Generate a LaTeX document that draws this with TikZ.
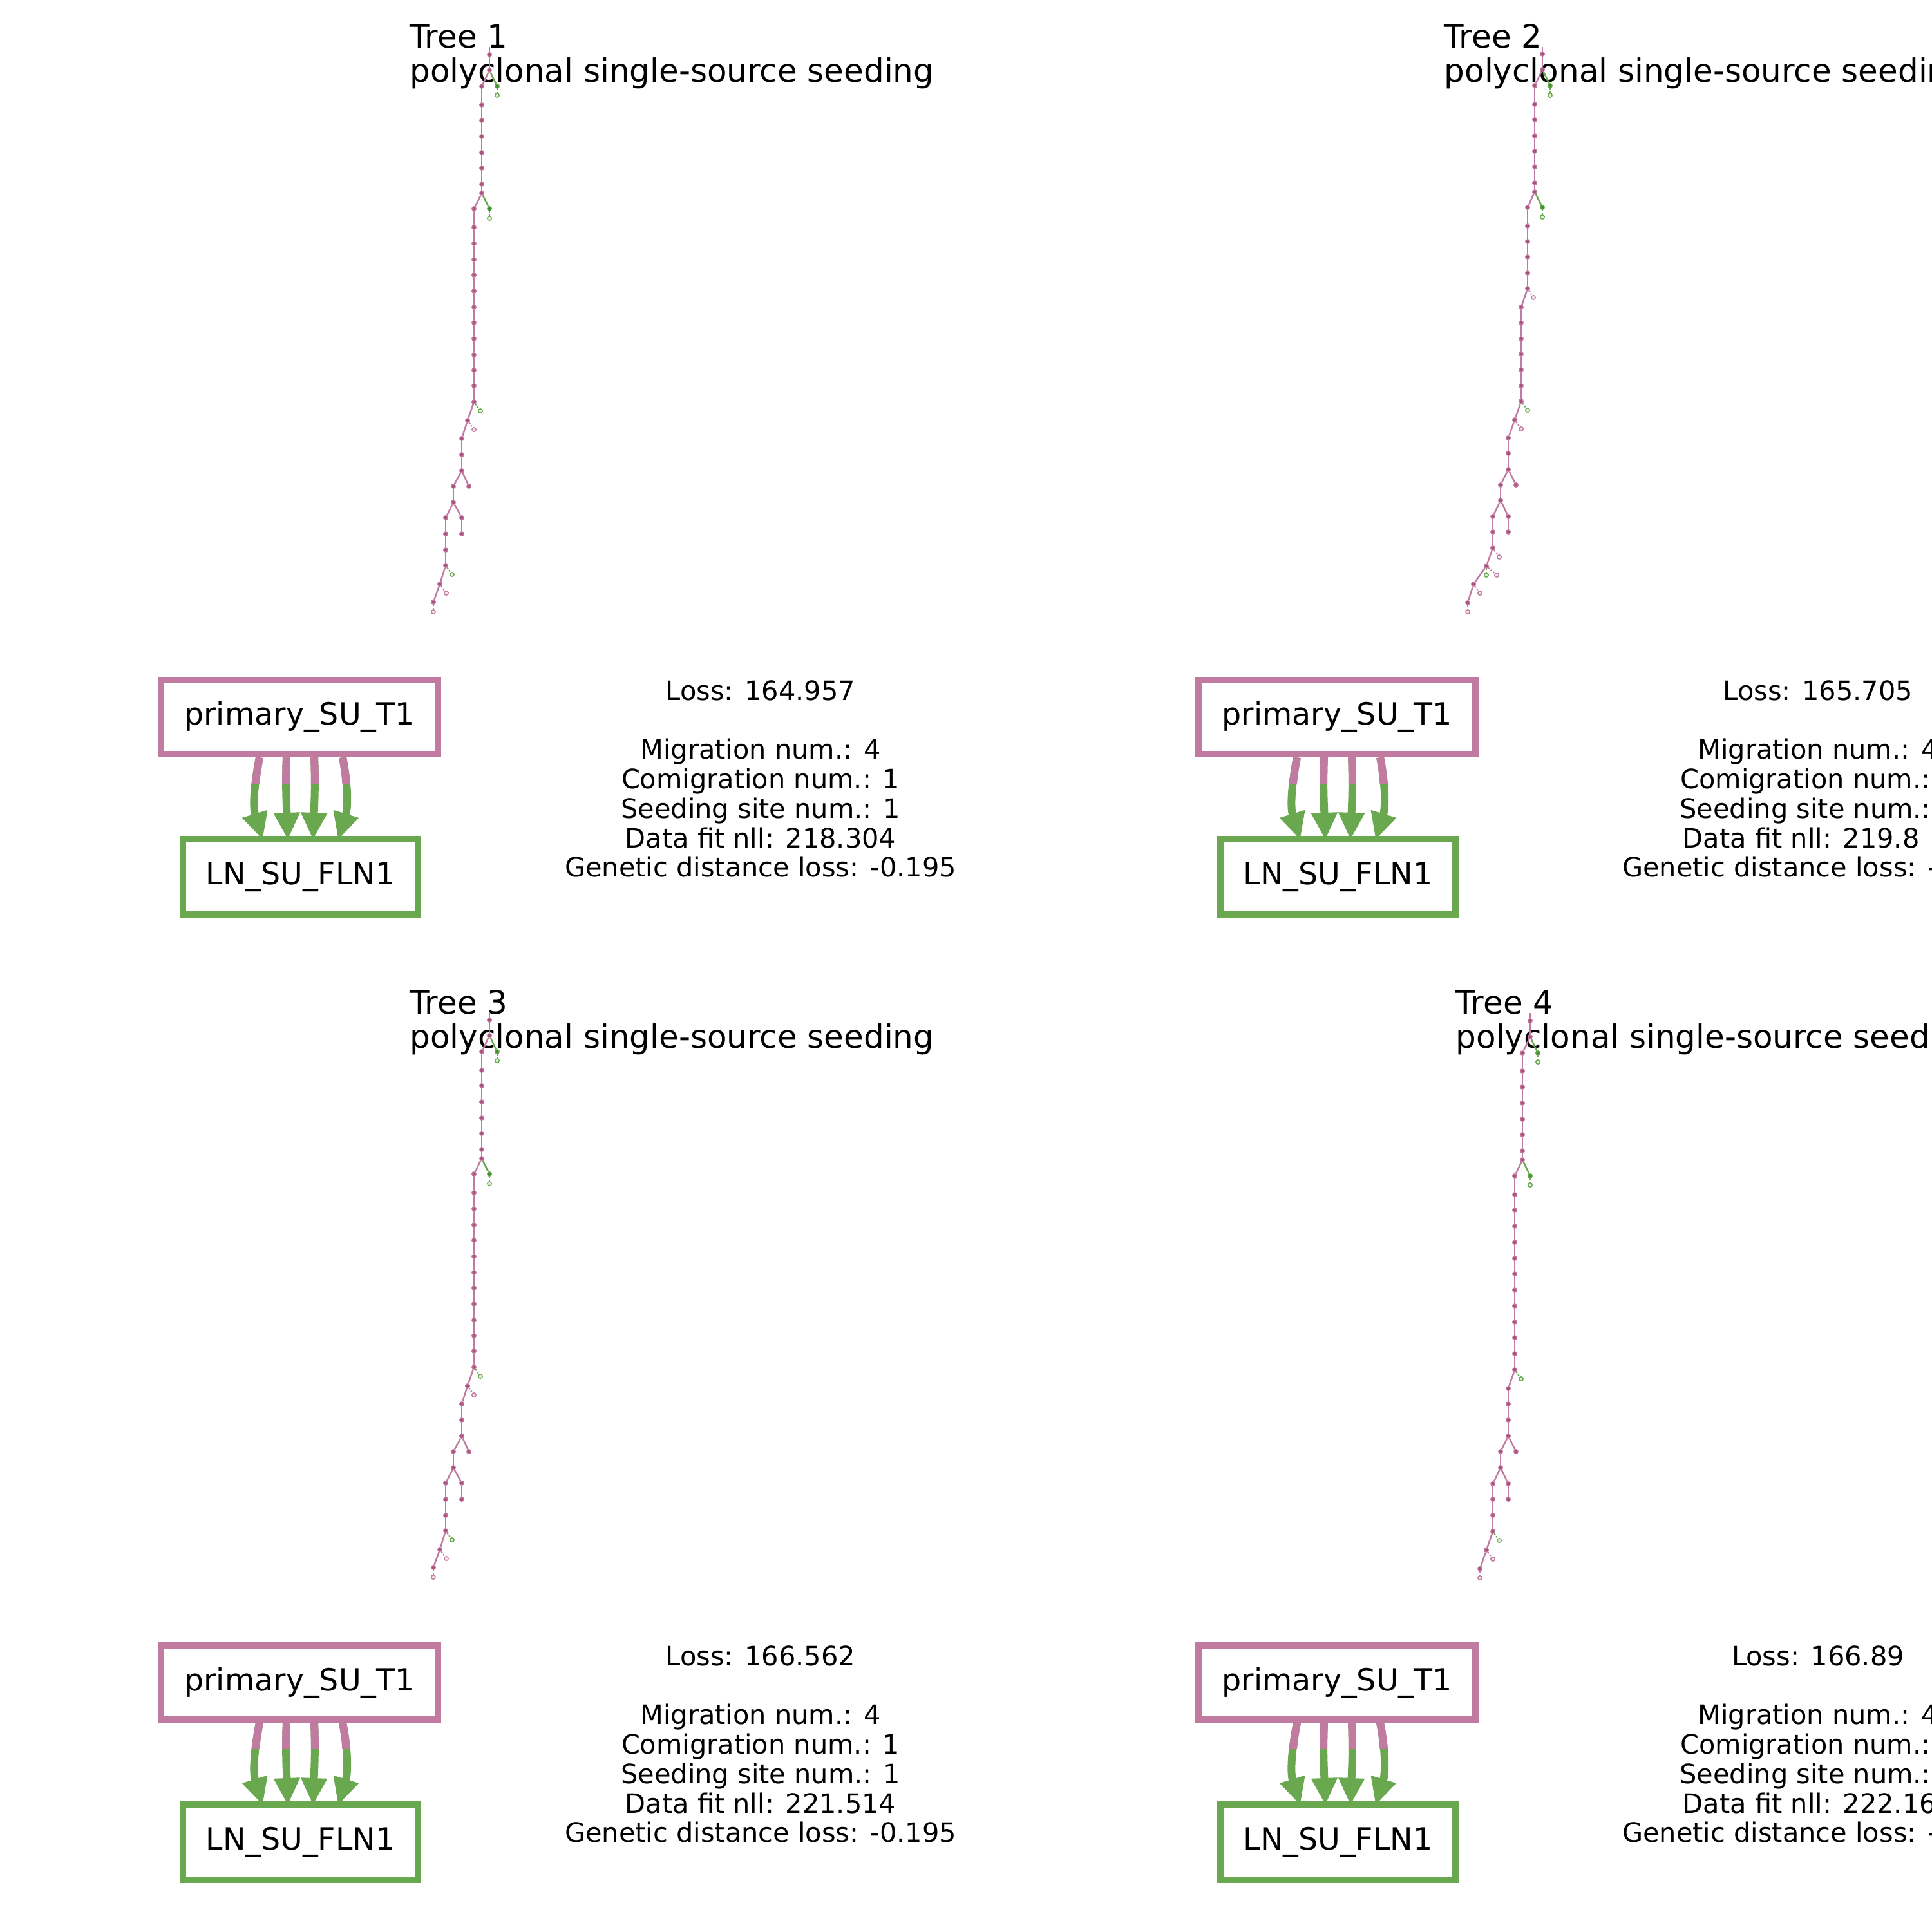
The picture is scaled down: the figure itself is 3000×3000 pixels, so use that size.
\documentclass[tikz,border=0pt]{standalone}
\usepackage{fontspec}
\setmainfont{DejaVu Sans}
\usetikzlibrary{arrows.meta,calc}
\definecolor{pk}{HTML}{C27BA0}
\definecolor{gr}{HTML}{6AA84F}
\definecolor{pkdark}{HTML}{A9507F}
\definecolor{grdark}{HTML}{3F8F2C}
\definecolor{pklight}{HTML}{F4E2EC}
\definecolor{grlight}{HTML}{E0F0D8}
\tikzset{
 pn/.style={circle,fill=pkdark,draw=pk,line width=0.4pt,inner sep=0,minimum size=0.065cm},
 gn/.style={circle,fill=grdark,draw=gr,line width=0.4pt,inner sep=0,minimum size=0.065cm},
 po/.style={circle,fill=pklight,draw=pk,line width=0.4pt,inner sep=0,minimum size=0.065cm},
 go/.style={circle,fill=grlight,draw=gr,line width=0.4pt,inner sep=0,minimum size=0.065cm},
 pe/.style={draw=pk,line width=0.7pt},
 ge/.style={draw=gr,line width=0.7pt},
 pd/.style={draw=pk,line width=0.6pt,dash pattern=on 0.7pt off 0.7pt},
 gd/.style={draw=gr,line width=0.6pt,dash pattern=on 0.7pt off 0.7pt},
 ttl/.style={anchor=base west,inner sep=0,font=\fontsize{14.2}{15.1}\selectfont},
 stat/.style={anchor=base,inner sep=0,font=\fontsize{11.8}{13}\selectfont},
 primbox/.style={draw=pk,line width=0.1cm,minimum width=4.3cm,minimum height=1.15cm,inner sep=0,font=\fontsize{13.5}{16}\selectfont},
 lnbox/.style={draw=gr,line width=0.1cm,minimum width=3.65cm,minimum height=1.17cm,inner sep=0,font=\fontsize{13.5}{16}\selectfont},
 migg/.style={draw=gr,line width=0.12cm,-{Triangle[length=0.42cm,width=0.38cm]}},
 migp/.style={draw=pk,line width=0.12cm},
}
\newcommand{\mkchain}[3]{\foreach \i/\y in {#3} \node[pn] (#1\i) at (#2,\y) {};}
\newcommand{\mkedges}[2]{\foreach \i in {2,...,#2}{\pgfmathtruncatemacro\pj{\i-1}\draw[pe] (#1\pj) -- (#1\i);}}
% tree layout of trees 1 and 3
\newcommand{\treeA}[1]{
 \coordinate (#1r) at (760,73);
 \node[pn] (#1n1) at (760,85) {};
 \node[pn] (#1n2) at (760,109) {};
 \node[gn] (#1g1) at (772,134) {};
 \node[go] (#1g1o) at (772,148) {};
 \mkchain{#1a}{748}{1/134,2/163,3/187,4/212,5/237,6/261,7/286,8/300}
 \node[gn] (#1g2) at (760,324) {};
 \node[go] (#1g2o) at (760,339) {};
 \mkchain{#1b}{736}{1/324,2/353,3/378,4/403,5/427,6/452,7/477,8/501,9/526,10/551,11/575,12/599,13/624}
 \node[go] (#1g3o) at (746,638) {};
 \node[pn] (#1c1) at (726,653) {};
 \node[po] (#1p1o) at (736,667) {};
 \mkchain{#1d}{717}{1/681,2/706,3/731}
 \node[pn] (#1e1) at (704,755) {};
 \node[pn] (#1e1r) at (728,755) {};
 \node[pn] (#1e2) at (704,780) {};
 \mkchain{#1f}{692}{1/804,2/829,3/854,4/878}
 \node[pn] (#1f1r) at (717,804) {};
 \node[pn] (#1f2r) at (717,829) {};
 \node[go] (#1g4o) at (702,892) {};
 \node[pn] (#1h1) at (683,907) {};
 \node[po] (#1p2o) at (693,921) {};
 \node[pn] (#1h2) at (673,935) {};
 \node[po] (#1p3o) at (673,950) {};
 \draw[pe] (#1r) -- (#1n1);
 \draw[pe] (#1n1) -- (#1n2);
 \draw[pe] (#1n2) -- (#1a1);
 \draw[ge] (#1n2) -- (#1g1);
 \draw[gd] (#1g1) -- (#1g1o);
 \mkedges{#1a}{8}
 \draw[pe] (#1a8) -- (#1b1);
 \draw[ge] (#1a8) -- (#1g2);
 \draw[gd] (#1g2) -- (#1g2o);
 \mkedges{#1b}{13}
 \draw[gd] (#1b13) -- (#1g3o);
 \draw[pe] (#1b13) -- (#1c1);
 \draw[pd] (#1c1) -- (#1p1o);
 \draw[pe] (#1c1) -- (#1d1);
 \mkedges{#1d}{3}
 \draw[pe] (#1d3) -- (#1e1);
 \draw[pe] (#1d3) -- (#1e1r);
 \draw[pe] (#1e1) -- (#1e2);
 \draw[pe] (#1e2) -- (#1f1);
 \draw[pe] (#1e2) -- (#1f1r);
 \draw[pe] (#1f1r) -- (#1f2r);
 \mkedges{#1f}{4}
 \draw[gd] (#1f4) -- (#1g4o);
 \draw[pe] (#1f4) -- (#1h1);
 \draw[pd] (#1h1) -- (#1p2o);
 \draw[pe] (#1h1) -- (#1h2);
 \draw[pd] (#1h2) -- (#1p3o);
}
% one migration arrow: #1 graph prefix, #2 start dx, #3 end dx, #4 first control, #5 second control, #6 style
\newcommand{\migarrow}[6]{\draw[#6] ($(#1p.south)+(#2,0)$) .. controls +(#4) and +(#5) .. ($(#1l.north)+(#3,6)$);}
% migration graph
\newcommand{\migraph}[1]{
 \node[primbox,anchor=north] (#1p) at (465,1051) {primary\_SU\_T1};
 \node[lnbox,anchor=north] (#1l) at (466.5,1298) {LN\_SU\_FLN1};
 \migarrow{#1}{-62}{-58.5}{-8,40}{-16,-52}{migg}
 \migarrow{#1}{-20}{-19.5}{-2,40}{-2,-52}{migg}
 \migarrow{#1}{23}{19.5}{2,40}{2,-52}{migg}
 \migarrow{#1}{67}{58.5}{8,40}{16,-52}{migg}
 \begin{scope}
  \clip (0,1100) rectangle (3000,1216);
  \migarrow{#1}{-62}{-58.5}{-8,40}{-16,-52}{migp}
  \migarrow{#1}{-20}{-19.5}{-2,40}{-2,-52}{migp}
  \migarrow{#1}{23}{19.5}{2,40}{2,-52}{migp}
  \migarrow{#1}{67}{58.5}{8,40}{16,-52}{migp}
 \end{scope}
}
\newcommand{\statblk}[9]{
 \node[stat] (#1s1) at (#2,#3) {#4};
 \node[stat] (#1s2) at (#2,#3+91.6) {#5};
 \node[stat] (#1s3) at (#2,#3+137.4) {#6};
 \node[stat] (#1s4) at (#2,#3+183.2) {#7};
 \node[stat] (#1s5) at (#2,#3+229) {#8};
 \node[stat] (#1s6) at (#2,#3+274.8) {#9};
}
\begin{document}
\begin{tikzpicture}[x=0.01cm,y=-0.01cm]
\useasboundingbox (0,0) rectangle (3000,3000);
\fill[white] (0,0) rectangle (3000,3000);
\clip (0,0) rectangle (3000,3000);

% ---------- Tree 1 ----------
\node[ttl] (t1a) at (636,75) {Tree 1};
\node[ttl] (t1b) at (636,128) {polyclonal single-source seeding};
\treeA{T1}
\migraph{M1}
\statblk{S1}{1181}{1087}{Loss: 164.957}{Migration num.: 4}{Comigration num.: 1}{Seeding site num.: 1}{Data fit nll: 218.304}{Genetic distance loss: -0.195}

% ---------- Tree 2 ----------
\node[ttl] (t2a) at (2242,75) {Tree 2};
\node[ttl] (t2b) at (2242,128) {polyclonal single-source seeding};
\coordinate (T2r) at (2395,73);
\node[pn] (T2n1) at (2395,84) {};
\node[pn] (T2n2) at (2395,108) {};
\node[gn] (T2g1) at (2407,133) {};
\node[go] (T2g1o) at (2407,148) {};
\mkchain{T2a}{2383}{1/133,2/162,3/186,4/211,5/235,6/259,7/284,8/298}
\node[gn] (T2g2) at (2395,322) {};
\node[go] (T2g2o) at (2395,337) {};
\mkchain{T2b}{2372}{1/322,2/351,3/375,4/399,5/424,6/448}
\node[po] (T2p0o) at (2381,462) {};
\mkchain{T2c}{2362}{1/477,2/501,3/526,4/550,5/574,6/599,7/623}
\node[go] (T2g3o) at (2372,637) {};
\node[pn] (T2d0) at (2352,652) {};
\node[po] (T2p1o) at (2362,666) {};
\mkchain{T2d}{2342}{1/680,2/704,3/729}
\node[pn] (T2e1) at (2330,753) {};
\node[pn] (T2e1r) at (2354,753) {};
\node[pn] (T2e2) at (2330,777) {};
\mkchain{T2f}{2318}{1/802,2/826,3/851}
\node[pn] (T2f1r) at (2342,802) {};
\node[pn] (T2f2r) at (2342,826) {};
\node[po] (T2p2o) at (2328,865) {};
\node[pn] (T2h0) at (2308,879) {};
\node[go] (T2g4o) at (2308,893) {};
\node[po] (T2p3o) at (2324,893) {};
\node[pn] (T2h1) at (2288,907) {};
\node[po] (T2p4o) at (2298,921) {};
\node[pn] (T2h2) at (2279,936) {};
\node[po] (T2p5o) at (2279,950) {};
\draw[pe] (T2r) -- (T2n1);
\draw[pe] (T2n1) -- (T2n2);
\draw[pe] (T2n2) -- (T2a1);
\draw[ge] (T2n2) -- (T2g1);
\draw[gd] (T2g1) -- (T2g1o);
\mkedges{T2a}{8}
\draw[pe] (T2a8) -- (T2b1);
\draw[ge] (T2a8) -- (T2g2);
\draw[gd] (T2g2) -- (T2g2o);
\mkedges{T2b}{6}
\draw[pd] (T2b6) -- (T2p0o);
\draw[pe] (T2b6) -- (T2c1);
\mkedges{T2c}{7}
\draw[gd] (T2c7) -- (T2g3o);
\draw[pe] (T2c7) -- (T2d0);
\draw[pd] (T2d0) -- (T2p1o);
\draw[pe] (T2d0) -- (T2d1);
\mkedges{T2d}{3}
\draw[pe] (T2d3) -- (T2e1);
\draw[pe] (T2d3) -- (T2e1r);
\draw[pe] (T2e1) -- (T2e2);
\draw[pe] (T2e2) -- (T2f1);
\draw[pe] (T2e2) -- (T2f1r);
\draw[pe] (T2f1r) -- (T2f2r);
\mkedges{T2f}{3}
\draw[pd] (T2f3) -- (T2p2o);
\draw[pe] (T2f3) -- (T2h0);
\draw[gd] (T2h0) -- (T2g4o);
\draw[pd] (T2h0) -- (T2p3o);
\draw[pe] (T2h0) -- (T2h1);
\draw[pd] (T2h1) -- (T2p4o);
\draw[pe] (T2h1) -- (T2h2);
\draw[pd] (T2h2) -- (T2p5o);
\begin{scope}[shift={(1611,0)}]
 \migraph{M2}
\end{scope}
\statblk{S2}{2823}{1087}{Loss: 165.705}{Migration num.: 4}{Comigration num.:\phantom{\ 1}}{Seeding site num.:\phantom{\ 1}}{Data fit nll: 219.8\phantom{00}}{Genetic distance loss: -\phantom{0.195}}

% ---------- Tree 3 ----------
\node[ttl] (t3a) at (636,1574) {Tree 3};
\node[ttl] (t3b) at (636,1627) {polyclonal single-source seeding};
\begin{scope}[shift={(0,1499)}]
 \treeA{T3}
 \migraph{M3}
\end{scope}
\statblk{S3}{1181}{2586}{Loss: 166.562}{Migration num.: 4}{Comigration num.: 1}{Seeding site num.: 1}{Data fit nll: 221.514}{Genetic distance loss: -0.195}

% ---------- Tree 4 ----------
\node[ttl] (t4a) at (2260,1574) {Tree 4};
\node[ttl] (t4b) at (2260,1627) {polyclonal single-source seeding};
\coordinate (T4r) at (2376,1573);
\node[pn] (T4n1) at (2376,1585) {};
\node[pn] (T4n2) at (2376,1610) {};
\node[gn] (T4g1) at (2388,1635) {};
\node[go] (T4g1o) at (2388,1649) {};
\mkchain{T4a}{2364}{1/1635,2/1663,3/1688,4/1713,5/1738,6/1762,7/1787,8/1801}
\node[gn] (T4g2) at (2376,1826) {};
\node[go] (T4g2o) at (2376,1840) {};
\mkchain{T4b}{2352}{1/1826,2/1855,3/1879,4/1904,5/1929,6/1954,7/1978,8/2003,9/2028,10/2053,11/2077,12/2102,13/2127}
\node[go] (T4g3o) at (2362,2141) {};
\node[pn] (T4c1) at (2342,2156) {};
\mkchain{T4d}{2342}{1/2180,2/2205,3/2230}
\node[pn] (T4e1) at (2330,2254) {};
\node[pn] (T4e1r) at (2354,2254) {};
\node[pn] (T4e2) at (2330,2279) {};
\mkchain{T4f}{2318}{1/2304,2/2328,3/2353,4/2378}
\node[pn] (T4f1r) at (2342,2304) {};
\node[pn] (T4f2r) at (2342,2328) {};
\node[go] (T4g4o) at (2328,2392) {};
\node[pn] (T4h1) at (2308,2407) {};
\node[po] (T4p2o) at (2318,2421) {};
\node[pn] (T4h2) at (2298,2436) {};
\node[po] (T4p3o) at (2298,2450) {};
\draw[pe] (T4r) -- (T4n1);
\draw[pe] (T4n1) -- (T4n2);
\draw[pe] (T4n2) -- (T4a1);
\draw[ge] (T4n2) -- (T4g1);
\draw[gd] (T4g1) -- (T4g1o);
\mkedges{T4a}{8}
\draw[pe] (T4a8) -- (T4b1);
\draw[ge] (T4a8) -- (T4g2);
\draw[gd] (T4g2) -- (T4g2o);
\mkedges{T4b}{13}
\draw[gd] (T4b13) -- (T4g3o);
\draw[pe] (T4b13) -- (T4c1);
\draw[pe] (T4c1) -- (T4d1);
\mkedges{T4d}{3}
\draw[pe] (T4d3) -- (T4e1);
\draw[pe] (T4d3) -- (T4e1r);
\draw[pe] (T4e1) -- (T4e2);
\draw[pe] (T4e2) -- (T4f1);
\draw[pe] (T4e2) -- (T4f1r);
\draw[pe] (T4f1r) -- (T4f2r);
\mkedges{T4f}{4}
\draw[gd] (T4f4) -- (T4g4o);
\draw[pe] (T4f4) -- (T4h1);
\draw[pd] (T4h1) -- (T4p2o);
\draw[pe] (T4h1) -- (T4h2);
\draw[pd] (T4h2) -- (T4p3o);
\begin{scope}[shift={(1611,1499)}]
 \migraph{M4}
\end{scope}
\statblk{S4}{2823}{2586}{Loss: 166.89}{Migration num.: 4}{Comigration num.:\phantom{\ 1}}{Seeding site num.:\phantom{\ 1}}{Data fit nll: 222.16\phantom{0}}{Genetic distance loss: -\phantom{0.195}}
\end{tikzpicture}
\end{document}
